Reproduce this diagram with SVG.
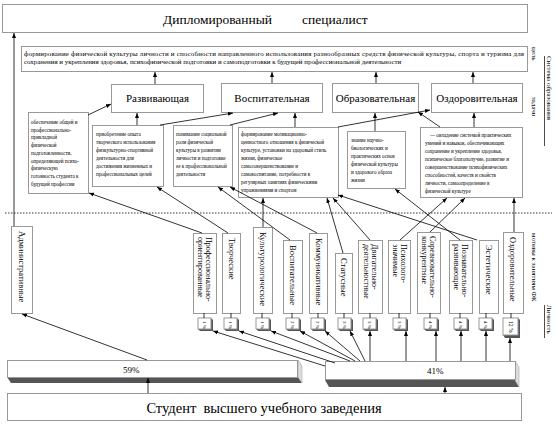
<svg xmlns="http://www.w3.org/2000/svg" width="558" height="424" viewBox="0 0 558 424">
<defs>
<marker id="ah" viewBox="0 0 10 10" refX="10" refY="5" markerWidth="5" markerHeight="5" orient="auto-start-reverse" markerUnits="userSpaceOnUse"><path d="M0,1 L10,5 L0,9 z" fill="#000"/></marker>
</defs>
<style>
.b{fill:#fff;stroke:#999;stroke-width:1}
.t{font-family:"Liberation Serif","Times New Roman",serif;fill:#000}
.big{font-size:13.5px}
.task{font-size:11px}
.sm{font-size:5.1px}
.goal{font-size:6.9px}
.mot{font-size:8.5px}
.mot2{font-size:8px}
.lab{font-size:7px}
.c{stroke:#000;stroke-width:0.8;fill:none}
.a{stroke:#000;stroke-width:0.8;fill:none;marker-end:url(#ah)}
.sh{fill:#555}
.side{fill:#ddd;stroke:#999;stroke-width:0.5}
</style>
<rect width="558" height="424" fill="#fff"/>

<g id="top">
<rect class="b" x="2.5" y="4.5" width="525" height="28"/>
<text class="t big" x="163" y="24">Дипломированный</text>
<text class="t big" x="302" y="24">специалист</text>
</g>

<g id="goal">
<rect class="b" x="21.5" y="46.5" width="506" height="25"/>
<text class="t goal" x="24" y="56" textLength="500" lengthAdjust="spacing">формирование физической культуры личности и способности направленного использования разнообразных средств физической культуры, спорта и туризма для</text>
<text class="t goal" x="24" y="64">сохранения и укрепления здоровья, психофизической подготовки и самоподготовки к будущей профессиональной деятельности</text>
</g>

<g id="task1"><rect class="b" x="111.5" y="84.5" width="92" height="28"/><text class="t task" x="157.5" y="102" text-anchor="middle">Развивающая</text></g>
<g id="task2"><rect class="b" x="221.5" y="83.5" width="101" height="29"/><text class="t task" x="272" y="102" text-anchor="middle">Воспитательная</text></g>
<g id="task3"><rect class="b" x="332.5" y="83.5" width="86" height="29"/><text class="t task" x="375.5" y="102" text-anchor="middle">Образовательная</text></g>
<g id="task4"><rect class="b" x="431.5" y="83.5" width="91" height="29"/><text class="t task" x="477" y="102" text-anchor="middle">Оздоровительная</text></g>

<g id="descA"><rect class="b" x="28.5" y="112.5" width="60" height="81"/>
<text class="t sm" x="31" y="124"><tspan x="31">обеспечение общей и</tspan><tspan x="31" dy="7.7">профессионально-</tspan><tspan x="31" dy="7.7">прикладной</tspan><tspan x="31" dy="7.7">физической</tspan><tspan x="31" dy="7.7">подготовленности,</tspan><tspan x="31" dy="7.7">определяющей психо-</tspan><tspan x="31" dy="7.7">физическую</tspan><tspan x="31" dy="7.7">готовность студента к</tspan><tspan x="31" dy="7.7">будущей профессии</tspan></text></g>

<g id="descB"><rect class="b" x="92.5" y="125.5" width="71" height="61"/>
<text class="t sm" x="96" y="136"><tspan x="96">приобретение опыта</tspan><tspan x="96" dy="8">творческого использования</tspan><tspan x="96" dy="8">физкультурно-спортивной</tspan><tspan x="96" dy="8">деятельности для</tspan><tspan x="96" dy="8">достижения жизненных и</tspan><tspan x="96" dy="8">профессиональных целей</tspan></text></g>

<g id="descC"><rect class="b" x="173.5" y="125.5" width="59" height="61"/>
<text class="t sm" x="176" y="136"><tspan x="176">понимание социальной</tspan><tspan x="176" dy="8">роли физической</tspan><tspan x="176" dy="8">культуры в развитии</tspan><tspan x="176" dy="8">личности и подготовке</tspan><tspan x="176" dy="8">ее к профессиональной</tspan><tspan x="176" dy="8">деятельности</tspan></text></g>

<g id="descD"><rect class="b" x="238.5" y="127.5" width="100" height="70"/>
<text class="t sm" x="241" y="136"><tspan x="241">формирование мотивационно-</tspan><tspan x="241" dy="8">ценностного отношения к физической</tspan><tspan x="241" dy="8">культуре, установки на здоровый стиль</tspan><tspan x="241" dy="8">жизни, физическое</tspan><tspan x="241" dy="8">самосовершенствование и</tspan><tspan x="241" dy="8">самовоспитание, потребности в</tspan><tspan x="241" dy="8">регулярных занятиях физическими</tspan><tspan x="241" dy="8">упражнениями и спортом</tspan></text></g>

<g id="descE"><rect class="b" x="347.5" y="131.5" width="58" height="57"/>
<text class="t sm" x="351" y="142"><tspan x="351">знание научно-</tspan><tspan x="351" dy="8">биологических и</tspan><tspan x="351" dy="8">практических основ</tspan><tspan x="351" dy="8">физической культуры</tspan><tspan x="351" dy="8">и здорового образа</tspan><tspan x="351" dy="8">жизни</tspan></text></g>

<g id="descF"><rect class="b" x="420.5" y="127.5" width="102" height="70"/>
<text class="t sm" x="430" y="137"><tspan x="430">— овладение системой практических</tspan><tspan x="425" dy="8">умений и навыков, обеспечивающих</tspan><tspan x="425" dy="8">сохранение и укрепление здоровья,</tspan><tspan x="425" dy="8">психическое благополучие, развитие и</tspan><tspan x="425" dy="8">совершенствование психофизических</tspan><tspan x="425" dy="8">способностей, качеств и свойств</tspan><tspan x="425" dy="8">личности, самоопределение в</tspan><tspan x="425" dy="8">физической культуре</tspan></text></g>

<g id="labels">
<text class="t lab" transform="translate(547,56) rotate(90)">Система образования</text>
<line x1="544.5" y1="56" x2="544.5" y2="146" stroke="#000" stroke-width="0.7"/>
<text class="t lab" transform="translate(532,47) rotate(90)">цель</text>
<text class="t lab" transform="translate(532,97) rotate(90)">задачи</text>
<text class="t lab" transform="translate(532,233) rotate(90)">мотивы к занятиям ФК</text>
<text class="t lab" transform="translate(547,305) rotate(90)">Личность</text>
<line x1="544.5" y1="305" x2="544.5" y2="338" stroke="#000" stroke-width="0.7"/>
</g>

<line x1="5" y1="213" x2="552" y2="213" stroke="#000" stroke-width="0.8" stroke-dasharray="1.5,1.5"/>

<g id="m0"><rect class="b" x="11.5" y="226.5" width="21" height="87"/><text class="t mot" transform="translate(19,231) rotate(90)">Административные</text></g>
<g id="m1"><rect class="b" x="193.5" y="233.5" width="23" height="80"/><text class="t mot2" transform="translate(206,237) rotate(90)"><tspan x="0">Профессионально-</tspan><tspan x="0" dy="8.5">ориентированные</tspan></text></g>
<g id="m2"><rect class="b" x="222.5" y="233.5" width="18" height="80"/><text class="t mot" transform="translate(228.5,238) rotate(90)">Творческие</text></g>
<g id="m3"><rect class="b" x="253.5" y="227.5" width="19" height="86"/><text class="t mot" transform="translate(259.5,232) rotate(90)">Культурологические</text></g>
<g id="m4"><rect class="b" x="283.5" y="240.5" width="19" height="73"/><text class="t mot" transform="translate(289.5,245) rotate(90)">Воспитательные</text></g>
<g id="m5"><rect class="b" x="309.5" y="233.5" width="18" height="80"/><text class="t mot" transform="translate(315.5,238) rotate(90)">Коммуникативные</text></g>
<g id="m6"><rect class="b" x="335.5" y="253.5" width="17" height="60"/><text class="t mot" transform="translate(341,258) rotate(90)">Статусные</text></g>
<g id="m7"><rect class="b" x="358.5" y="240.5" width="24" height="73"/><text class="t mot2" transform="translate(372,244) rotate(90)"><tspan x="0">Двигательно-</tspan><tspan x="0" dy="8.5">деятельностные</tspan></text></g>
<g id="m8"><rect class="b" x="388.5" y="240.5" width="22" height="73"/><text class="t mot2" transform="translate(401,244) rotate(90)"><tspan x="0">Психолого-</tspan><tspan x="0" dy="8.5">значимые</tspan></text></g>
<g id="m9"><rect class="b" x="417.5" y="232.5" width="23" height="81"/><text class="t mot2" transform="translate(430,236) rotate(90)"><tspan x="0">Соревновательно-</tspan><tspan x="0" dy="8.5">конкурентные</tspan></text></g>
<g id="m10"><rect class="b" x="449.5" y="240.5" width="23" height="73"/><text class="t mot2" transform="translate(462,244) rotate(90)"><tspan x="0">Познавательно-</tspan><tspan x="0" dy="8.5">развивающие</tspan></text></g>
<g id="m11"><rect class="b" x="479.5" y="240.5" width="19" height="73"/><text class="t mot" transform="translate(485.5,245) rotate(90)">Эстетические</text></g>
<g id="m12"><rect class="b" x="503.5" y="232.5" width="20" height="81"/><text class="t mot" transform="translate(510,237) rotate(90)">Оздоровительные</text></g>

<g id="pct">
<g transform="translate(198,318)"><path class="sh" d="M2,13 L15,13 L15,2 L13,0 L13,11 L0,11 z"/><rect class="b" x="0" y="0" width="13" height="11"/><text class="t" font-size="5" transform="translate(5,3) rotate(90)">1 %</text></g>
<g transform="translate(224,318)"><path class="sh" d="M2,13 L15,13 L15,2 L13,0 L13,11 L0,11 z"/><rect class="b" x="0" y="0" width="13" height="11"/><text class="t" font-size="5" transform="translate(5,3) rotate(90)">1 %</text></g>
<g transform="translate(256,318)"><path class="sh" d="M2,13 L15,13 L15,2 L13,0 L13,11 L0,11 z"/><rect class="b" x="0" y="0" width="13" height="11"/><text class="t" font-size="5" transform="translate(5,3) rotate(90)">1 %</text></g>
<g transform="translate(286,318)"><path class="sh" d="M2,13 L15,13 L15,2 L13,0 L13,11 L0,11 z"/><rect class="b" x="0" y="0" width="13" height="11"/><text class="t" font-size="5" transform="translate(5,3) rotate(90)">2 %</text></g>
<g transform="translate(311,318)"><path class="sh" d="M2,13 L15,13 L15,2 L13,0 L13,11 L0,11 z"/><rect class="b" x="0" y="0" width="13" height="11"/><text class="t" font-size="5" transform="translate(5,3) rotate(90)">2 %</text></g>
<g transform="translate(338,318)"><path class="sh" d="M2,13 L15,13 L15,2 L13,0 L13,11 L0,11 z"/><rect class="b" x="0" y="0" width="13" height="11"/><text class="t" font-size="5" transform="translate(5,3) rotate(90)">3 %</text></g>
<g transform="translate(363,318)"><path class="sh" d="M2,13 L15,13 L15,2 L13,0 L13,11 L0,11 z"/><rect class="b" x="0" y="0" width="13" height="11"/><text class="t" font-size="5" transform="translate(5,3) rotate(90)">3 %</text></g>
<g transform="translate(393,318)"><path class="sh" d="M2,13 L15,13 L15,2 L13,0 L13,11 L0,11 z"/><rect class="b" x="0" y="0" width="13" height="11"/><text class="t" font-size="5" transform="translate(5,3) rotate(90)">3 %</text></g>
<g transform="translate(424,318)"><path class="sh" d="M2,13 L15,13 L15,2 L13,0 L13,11 L0,11 z"/><rect class="b" x="0" y="0" width="13" height="11"/><text class="t" font-size="5" transform="translate(5,3) rotate(90)">4 %</text></g>
<g transform="translate(454,318)"><path class="sh" d="M2,13 L15,13 L15,2 L13,0 L13,11 L0,11 z"/><rect class="b" x="0" y="0" width="13" height="11"/><text class="t" font-size="5" transform="translate(5,3) rotate(90)">4 %</text></g>
<g transform="translate(479,318)"><path class="sh" d="M2,13 L15,13 L15,2 L13,0 L13,11 L0,11 z"/><rect class="b" x="0" y="0" width="13" height="11"/><text class="t" font-size="5" transform="translate(5,3) rotate(90)">4 %</text></g>
<g transform="translate(503,318)"><path class="sh" d="M2,20 L17,20 L17,2 L15,0 L15,17 L0,17 z"/><rect class="b" x="0" y="0" width="15" height="17"/><text class="t" font-size="5.5" transform="translate(6,3) rotate(90)">12 %</text></g>
</g>

<g id="bar59">
<path class="sh" d="M7,377 L298,377 L302,383 L11,383 z"/>
<path class="side" d="M298,360 L302,366 L302,383 L298,377 z"/>
<rect class="b" x="7.5" y="360.5" width="290" height="17"/>
<text class="t" font-size="9" x="123" y="373">59%</text>
</g>
<g id="bar41">
<path class="sh" d="M325,380 L515,380 L519,387 L329,387 z"/>
<path class="side" d="M515,361 L519,367 L519,387 L515,380 z"/>
<rect class="b" x="325.5" y="361.5" width="190" height="18"/>
<text class="t" font-size="9" x="427" y="374">41%</text>
</g>

<g id="student">
<rect class="b" x="7.5" y="393.5" width="514" height="27"/>
<text class="t" font-size="14.5" x="264" y="413" text-anchor="middle" xml:space="preserve">Студент  высшего учебного заведения</text>
</g>

<g id="connectors">
<path class="a" d="M14,226 L14,33"/>
<path class="a" d="M155,84 L155,72"/>
<path class="a" d="M272,83 L272,72"/>
<path class="a" d="M376,83 L376,72"/>
<path class="a" d="M473,83 L473,72"/>
<path class="a" d="M88,115 L111,104"/>
<path class="a" d="M137,125 L137,113"/>
<path class="a" d="M160,125 L233,113"/>
<path class="a" d="M230,125 L278,113"/>
<path class="a" d="M295,127 L295,113"/>
<path class="a" d="M338,127 L430,110"/>
<path class="a" d="M375,131 L375,113"/>
<path class="a" d="M440,127 L418,112"/>
<path class="a" d="M474,127 L474,113"/>
<path class="a" d="M202,233 L89,193"/>
<path class="a" d="M228,233 L157,187"/>
<path class="a" d="M263,227 L263,198"/>
<path class="a" d="M290,240 L218,187"/>
<path class="a" d="M317,233 L230,187"/>
<path class="a" d="M343,253 L327,198"/>
<path class="a" d="M370,240 L333,198"/>
<path class="a" d="M400,240 L447,198"/>
<path class="a" d="M430,232 L465,198"/>
<path class="a" d="M460,240 L395,189"/>
<path class="a" d="M477,240 L338,195"/>
<path class="a" d="M514,232 L514,198"/>
<path class="a" d="M147,360 L22,314"/>
<path class="a" d="M148,393 L148,378"/>
<path class="a" d="M445,393 L445,387"/>
<path class="c" d="M204,313 L204,318 M231,313 L231,318 M262,313 L262,318 M292,313 L292,318 M318,313 L318,318 M344,313 L344,318 M370,313 L370,318 M399,313 L399,318 M430,313 L430,318 M460,313 L460,318 M486,313 L486,318 M511,313 L511,318"/>
<path class="a" d="M325,366 L213,331"/>
<path class="a" d="M335,363 L239,331"/>
<path class="a" d="M350,361 L271,331"/>
<path class="a" d="M355,361 L300,331"/>
<path class="a" d="M360,361 L325,331"/>
<path class="a" d="M365,361 L350,331"/>
<path class="a" d="M370,361 L370,331"/>
<path class="a" d="M406,361 L406,331"/>
<path class="a" d="M436,361 L436,331"/>
<path class="a" d="M461,361 L461,331"/>
<path class="a" d="M486,361 L486,331"/>
<path class="a" d="M510,361 L510,338"/>
</g>
</svg>
